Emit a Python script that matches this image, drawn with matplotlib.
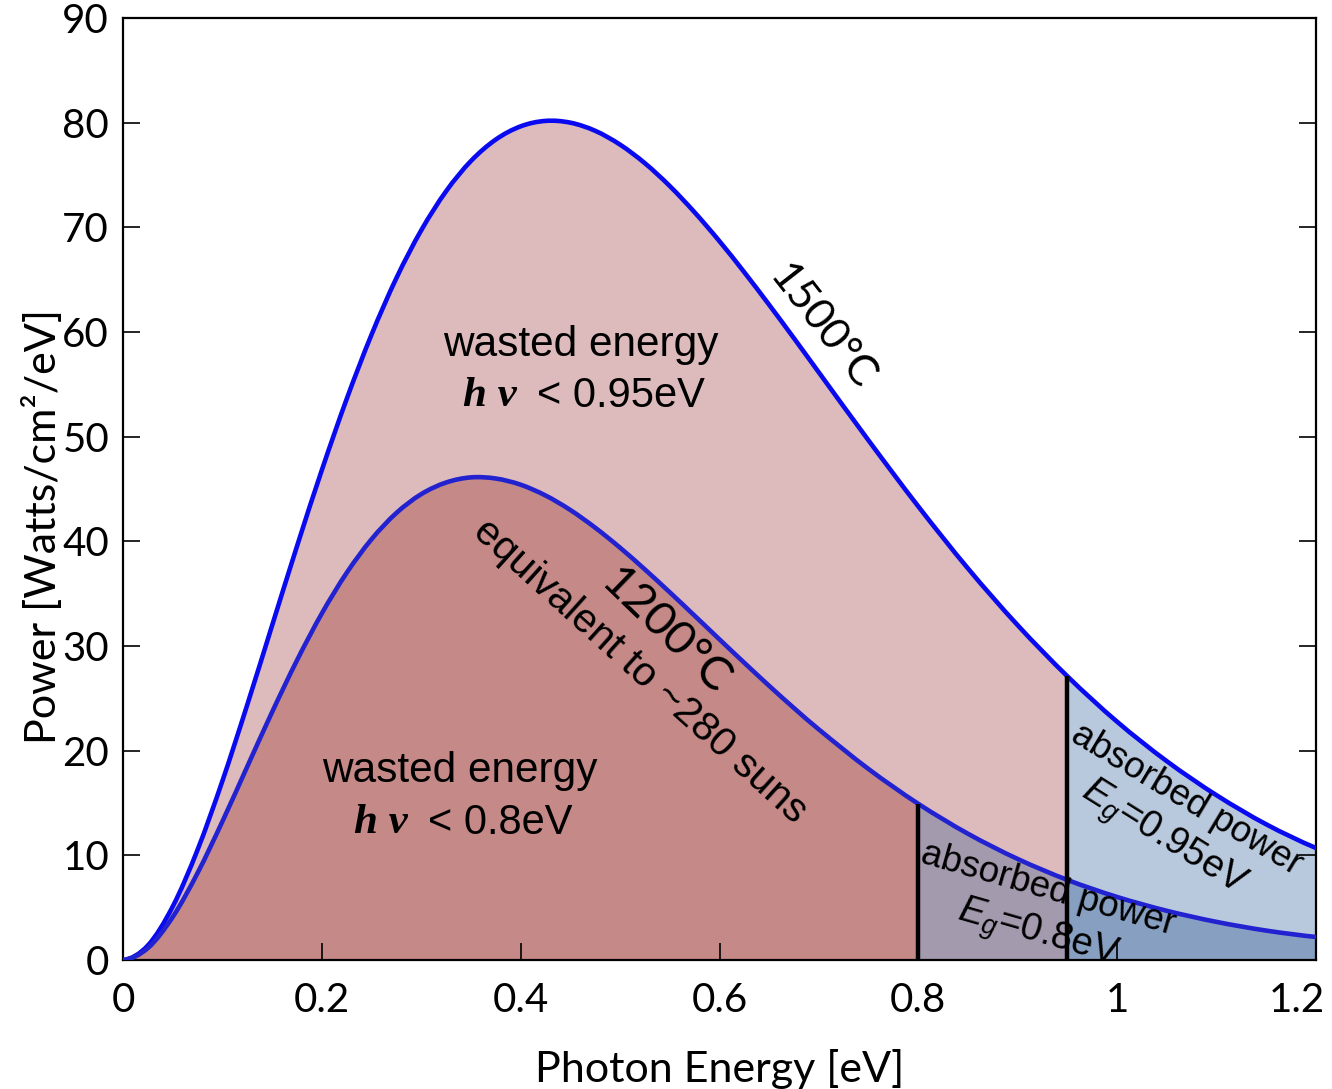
import matplotlib
matplotlib.use("Agg")
import matplotlib.pyplot as plt
from matplotlib.path import Path
from matplotlib.patches import PathPatch
from matplotlib.transforms import ScaledTranslation
import numpy as np

# ---- data ----
energy = [0, 0.025, 0.05, 0.075, 0.1, 0.125, 0.15, 0.175, 0.2,
          0.225, 0.25, 0.275, 0.3, 0.325, 0.35, 0.375, 0.4, 0.425, 0.45,
          0.475, 0.5, 0.525, 0.55, 0.575, 0.6, 0.625, 0.65, 0.675, 0.7,
          0.75, 0.8, 0.85, 0.9, 0.95, 1.0, 1.05, 1.1, 1.15, 1.2]
p1500 = [0, 1.39, 5.11, 10.53, 17.11, 24.39, 31.97, 39.53, 46.81,
         53.60, 59.75, 65.15, 69.72, 73.45, 76.34, 78.39, 79.65, 80.17, 80.00,
         79.22, 77.90, 76.12, 73.94, 71.43, 68.67, 65.70, 62.59, 59.39, 56.13,
         49.63, 43.33, 37.40, 31.98, 27.10, 22.76, 18.99, 15.74, 12.96, 10.70]
p1200 = [0, 1.14, 4.11, 8.31, 13.24, 18.48, 23.69, 28.63, 33.11,
         36.99, 40.20, 42.71, 44.51, 45.62, 46.11, 46.00, 45.41, 44.38, 42.99,
         41.30, 39.39, 37.31, 35.13, 32.89, 30.63, 28.39, 26.19, 24.06, 22.02,
         18.24, 14.92, 12.06, 9.65, 7.65, 6.02, 4.70, 3.64, 2.81, 2.20]
gap_low = 0.8
gap_high = 0.95
xticks = [0, 0.2, 0.4, 0.6, 0.8, 1.0, 1.2]
xticklabels = ["0", "0.2", "0.4", "0.6", "0.8", "1", "1.2"]
yticks = [0, 10, 20, 30, 40, 50, 60, 70, 80, 90]
yticklabels = ["0", "10", "20", "30", "40", "50", "60", "70", "80", "90"]

plt.rcParams['mathtext.fontset'] = 'custom'
plt.rcParams['mathtext.rm'] = 'Liberation Sans'
plt.rcParams['mathtext.it'] = 'Liberation Sans:italic'

e = np.array(energy)
a = np.array(p1500)
b = np.array(p1200)


def smooth_path(x, y):
    """Cubic Hermite (Bezier) path through the given points."""
    n = len(x)
    m = np.zeros(n)
    for i in range(1, n - 1):
        m[i] = (y[i + 1] - y[i - 1]) / (x[i + 1] - x[i - 1])
    m[0] = 2 * (y[1] - y[0]) / (x[1] - x[0]) - m[1]
    m[-1] = 2 * (y[-1] - y[-2]) / (x[-1] - x[-2]) - m[-2]
    verts = [(x[0], y[0])]
    codes = [Path.MOVETO]
    for i in range(n - 1):
        h = x[i + 1] - x[i]
        verts += [(x[i] + h / 3, y[i] + m[i] * h / 3),
                  (x[i + 1] - h / 3, y[i + 1] - m[i + 1] * h / 3),
                  (x[i + 1], y[i + 1])]
        codes += [Path.CURVE4] * 3
    return Path(verts, codes)


fig = plt.figure(figsize=(13.32, 10.89), dpi=100)
ax = fig.add_axes([123/1332, 129/1089, 1193/1332, 942/1089])

light_pink = '#ddbabb'
dark_pink = '#c58a88'
purple = '#a49aae'
light_blue = '#b9c9dd'
dark_blue = '#87a0c2'

kw = dict(linewidth=0.6)
ax.fill_between(e, b, a, where=e <= gap_high, color=light_pink, **kw)
ax.fill_between(e, b, a, where=e >= gap_high, color=light_blue, **kw)
ax.fill_between(e, 0, b, where=e <= gap_low, color=dark_pink, **kw)
ax.fill_between(e, 0, b, where=(e >= gap_low) & (e <= gap_high), color=purple, **kw)
ax.fill_between(e, 0, b, where=e >= gap_high, color=dark_blue, **kw)

ax.add_patch(PathPatch(smooth_path(e, a), facecolor='none', edgecolor='#0a0af0',
                       lw=3.3, zorder=4, capstyle='round', joinstyle='round'))
ax.add_patch(PathPatch(smooth_path(e, b), facecolor='none', edgecolor='#2222d0',
                       lw=3.3, zorder=4, capstyle='round', joinstyle='round'))

i_low = energy.index(gap_low)
i_high = energy.index(gap_high)
ax.vlines(gap_low, 0, b[i_low], color='black', lw=3.2, zorder=5)
ax.vlines(gap_high, 0, a[i_high], color='black', lw=3.2, zorder=5)

ax.set_xlim(0, 1.2)
ax.set_ylim(0, 90)
ax.set_xticks(xticks)
ax.set_xticklabels(xticklabels)
ax.set_yticks(yticks)
ax.set_yticklabels(yticklabels)
ax.tick_params(direction='in', length=12, width=1.2, right=True, top=False,
               labelsize=29)
ax.tick_params(axis='x', pad=16)
ax.tick_params(axis='y', pad=10)
for lab in ax.get_xticklabels() + ax.get_yticklabels():
    lab.set_fontfamily('Lato')
last = ax.get_xticklabels()[-1]
last.set_transform(last.get_transform() +
                   ScaledTranslation(-0.19, 0, fig.dpi_scale_trans))
for s in ax.spines.values():
    s.set_linewidth(1.6)

ax.set_xlabel('Photon Energy [eV]', fontsize=31, fontfamily='Lato')
ax.xaxis.set_label_coords(0.5, -0.095)
ax.set_ylabel('Power [Watts/cm²/eV]', fontsize=31, fontfamily='Lato')
ax.yaxis.set_label_coords(-0.05, 0.46)

sans = 'Liberation Sans'
ax.text(0.703, 60.5, '1500°C', rotation=-52, fontsize=31, fontfamily='Lato',
        ha='center', va='center', rotation_mode='anchor')
ax.text(0.46, 58.8, 'wasted energy', fontsize=30.5, fontfamily=sans,
        ha='center', va='center')
ax.text(0.396, 53.9, 'h ν', fontsize=31, fontfamily='Liberation Serif',
        fontweight='bold', fontstyle='italic', ha='right', va='center')
ax.text(0.4165, 53.9, '< 0.95eV', fontsize=30, fontfamily=sans,
        ha='left', va='center')

ax.text(0.545, 31.4, '1200°C', rotation=-44, fontsize=34, fontfamily='Lato',
        ha='center', va='center', rotation_mode='anchor')
ax.text(0.52, 27.6, 'equivalent to ~280 suns', rotation=-42, fontsize=29.5,
        fontfamily=sans, ha='center', va='center', rotation_mode='anchor')

ax.text(0.339, 18.1, 'wasted energy', fontsize=30.5, fontfamily=sans,
        ha='center', va='center')
ax.text(0.286, 13.1, 'h ν', fontsize=31, fontfamily='Liberation Serif',
        fontweight='bold', fontstyle='italic', ha='right', va='center')
ax.text(0.307, 13.1, '< 0.8eV', fontsize=30, fontfamily=sans,
        ha='left', va='center')

ax.text(1.070, 15.3, 'absorbed power', rotation=-31, fontsize=26.5,
        fontfamily=sans, ha='center', va='center', rotation_mode='anchor',
        zorder=6)
ax.text(1.046, 11.6, r'$E_g$=0.95eV', rotation=-32, fontsize=27.5,
        fontfamily=sans, ha='center', va='center', rotation_mode='anchor',
        zorder=6)
ax.text(0.931, 6.7, 'absorbed power', rotation=-16, fontsize=26.5,
        fontfamily=sans, ha='center', va='center', rotation_mode='anchor',
        zorder=6)
ax.text(0.920, 2.4, r'$E_g$=0.8eV', rotation=-16, fontsize=27.5,
        fontfamily=sans, ha='center', va='center', rotation_mode='anchor',
        zorder=6)

fig.savefig('out.png', dpi=100)
